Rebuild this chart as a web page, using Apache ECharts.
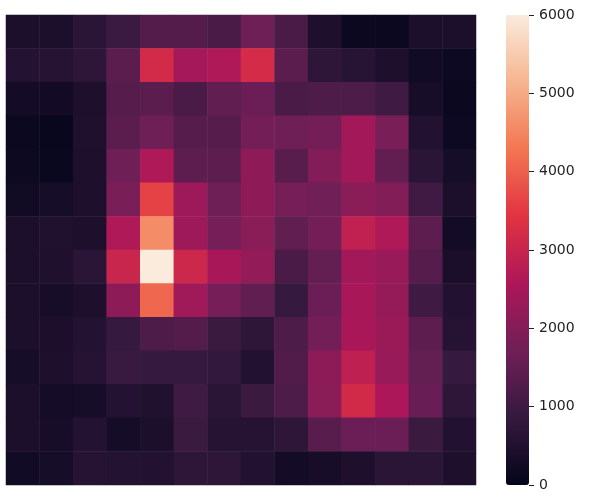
<!DOCTYPE html>
<html>
<head>
<meta charset="utf-8">
<script src="https://cdn.jsdelivr.net/npm/echarts@6/dist/echarts.min.js"></script>
<style>
    html, body { margin: 0; padding: 0; background: #fff; }
    #chart { width: 600px; height: 500px; }
</style>
</head>
<body>
<div id="chart"></div>
<script>
// 列和行（图上没有刻度标签）
const colLabels = ['0', '1', '2', '3', '4', '5', '6', '7', '8', '9', '10', '11', '12', '13'];
const rowLabels = ['0', '1', '2', '3', '4', '5', '6', '7', '8', '9', '10', '11', '12', '13'];

// 每一行的数值，从上往下
const row0 = [410, 430, 670, 930, 1310, 1300, 1160, 1690, 1160, 460, 140, 130, 430, 420];
const row1 = [565, 600, 720, 1390, 3180, 2460, 2620, 3215, 1390, 720, 615, 460, 257, 190];
const row2 = [290, 270, 460, 1340, 1390, 1160, 1500, 1630, 1160, 1220, 1220, 1000, 360, 140];
const row3 = [140, 100, 480, 1390, 1690, 1330, 1340, 1770, 1690, 1770, 2430, 1850, 530, 190];
const row4 = [150, 120, 460, 1690, 2620, 1450, 1450, 2130, 1370, 1970, 2430, 1510, 670, 330];
const row5 = [240, 330, 460, 1850, 3620, 2360, 1690, 2130, 1800, 1710, 2080, 1970, 1020, 430];
const row6 = [410, 500, 460, 2620, 4590, 2360, 1800, 2080, 1500, 1770, 2880, 2620, 1450, 290];
const row7 = [410, 480, 670, 3020, 6000, 3080, 2500, 2190, 1160, 1530, 2430, 2280, 1340, 400];
const row8 = [410, 360, 460, 2110, 4090, 2390, 1800, 1500, 860, 1630, 2500, 2220, 1000, 530];
const row9 = [410, 440, 550, 860, 1220, 1310, 940, 740, 1220, 1770, 2530, 2300, 1450, 600];
const row10 = [330, 460, 600, 900, 860, 870, 800, 530, 1280, 2110, 2850, 2290, 1530, 860];
const row11 = [410, 310, 330, 550, 500, 1000, 670, 940, 1220, 2080, 3160, 2560, 1600, 740];
const row12 = [410, 360, 570, 310, 430, 940, 600, 600, 740, 1370, 1630, 1630, 940, 530];
const row13 = [260, 330, 600, 570, 530, 720, 720, 530, 290, 360, 460, 670, 690, 460];
const rows = [row0, row1, row2, row3, row4, row5, row6, row7, row8, row9, row10, row11, row12, row13];

// 色条范围
const cbarMin = 0;
const cbarMax = 6000;
const cbarStep = 1000;

// rocket 色表
const rocket = ['#03051a', '#35193e', '#701f57', '#ad1759', '#e13342', '#f37651', '#f6b48f', '#faebdd'];

const heatData = [];
rows.forEach((row, y) => {
    row.forEach((v, x) => {
        heatData.push([x, y, v]);
    });
});

const chart = echarts.init(document.getElementById('chart'));

const option = {
    animation: false,
    backgroundColor: '#fff',
    grid: [
        { left: 6, top: 15, width: 470, height: 470 },
        // 色条的刻度
        { left: 506, top: 15, width: 23, height: 470 }
    ],
    xAxis: [
        { type: 'category', data: colLabels, gridIndex: 0, show: false },
        { type: 'category', data: ['c'], gridIndex: 1, show: false }
    ],
    yAxis: [
        { type: 'category', data: rowLabels, gridIndex: 0, show: false, inverse: true },
        {
            type: 'value',
            gridIndex: 1,
            position: 'right',
            min: cbarMin,
            max: cbarMax,
            interval: cbarStep,
            axisLine: { show: false, onZero: false },
            axisTick: { show: true, length: 5, lineStyle: { color: '#222' } },
            splitLine: { show: false },
            axisLabel: {
                margin: 10,
                color: '#222',
                fontSize: 14,
                fontFamily: 'DejaVu Sans',
                formatter: (v) => String(v)
            }
        }
    ],
    visualMap: {
        type: 'continuous',
        min: cbarMin,
        max: cbarMax,
        calculable: false,
        orient: 'vertical',
        left: 506,
        top: 15,
        padding: 0,
        itemWidth: 23,
        itemHeight: 470,
        text: null,
        seriesIndex: 0,
        inRange: { color: rocket }
    },
    series: [
        {
            type: 'heatmap',
            xAxisIndex: 0,
            yAxisIndex: 0,
            data: heatData,
            itemStyle: { borderWidth: 0 },
            emphasis: { disabled: true }
        }
    ]
};

chart.setOption(option);
</script>
</body>
</html>
